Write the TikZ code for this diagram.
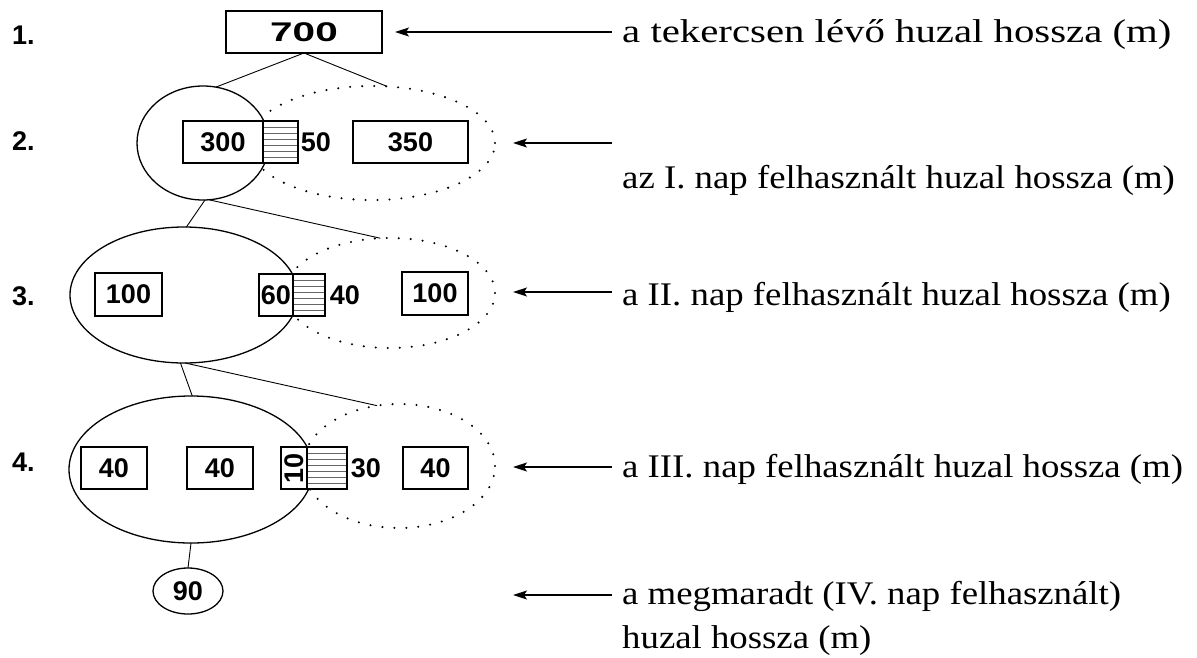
\documentclass[tikz,border=0pt]{standalone}
\usepackage{fontspec}
\setmainfont[FakeStretch=1.115]{Liberation Serif}
\newfontfamily\widenotefont[FakeStretch=1.236]{Liberation Serif}
\newfontfamily\digitfont{Liberation Sans}
\newfontfamily\widedigitfont[FakeStretch=1.5]{Liberation Sans}
\usetikzlibrary{shapes.geometric,arrows.meta,calc}

\begin{document}
\begin{tikzpicture}[x=1pt,y=-1pt,
  digits/.style={font=\digitfont\bfseries\fontsize{27}{28}\selectfont},
  numbox/.style={draw, line width=1.5pt, fill=white, inner sep=0pt, outer sep=0pt,
    minimum height=42pt, digits},
  hatchbox/.style={draw, line width=1.5pt, fill=white, inner sep=0pt, outer sep=0pt,
    minimum height=42pt,
    path picture={\foreach \k in {1,...,6}
      \draw[gray!80!black, line width=0.8pt]
        ($(path picture bounding box.north west)!\k/7!(path picture bounding box.south west)$) --
        ($(path picture bounding box.north east)!\k/7!(path picture bounding box.south east)$);}},
  loose/.style={inner sep=0pt, digits},
  solidell/.style={ellipse, draw, line width=1.3pt, fill=white, inner sep=0pt, outer sep=0pt},
  dotell/.style={ellipse, draw, line width=2.3pt, line cap=round, dash pattern=on 0pt off 12pt,
    inner sep=0pt, outer sep=0pt},
  link/.style={line width=0.9pt},
  pointer/.style={line width=1.3pt, -{Stealth[length=14pt,width=9pt,inset=3pt]}},
  note/.style={anchor=base west, inner sep=0pt, font=\fontsize{33}{44}\selectfont, align=left},
  rowlabel/.style={anchor=west, inner sep=0pt, digits}]
\useasboundingbox (0,0) rectangle (1197,657);

% level numbers
\node[rowlabel] (l1) at (12,35) {1.};
\node[rowlabel] (l2) at (12,141) {2.};
\node[rowlabel] (l3) at (12,296) {3.};
\node[rowlabel] (l4) at (12,462) {4.};

% level 1: the whole coil
\node[numbox, minimum width=156pt, font=\widedigitfont\bfseries\fontsize{27}{28}\selectfont]
  (t700) at (304,32) {700};

% level 2
\node[dotell, minimum width=246pt, minimum height=114pt] (d2) at (372,143) {};
\node[solidell, minimum width=132pt, minimum height=114pt] (s2) at (203,143) {};
\node[numbox, minimum width=80pt] (b300) at (223,142) {300};
\node[hatchbox, minimum width=35pt] (h50) at (280.5,142) {};
\node[loose] (n50) at (316,142) {50};
\node[numbox, minimum width=115pt] (b350) at (410.5,142) {350};

% level 3
\node[dotell, minimum width=210pt, minimum height=110pt] (d3) at (390,293) {};
\node[solidell, minimum width=228pt, minimum height=136pt] (s3) at (184,295) {};
\node[numbox, minimum width=67pt, minimum height=43pt] (b100a) at (128.5,294.5) {100};
\node[numbox, minimum width=34pt, minimum height=42pt] (b60) at (276,295) {60};
\node[hatchbox, minimum width=32pt] (h40) at (309,295) {};
\node[loose] (n40) at (345,295) {40};
\node[numbox, minimum width=66pt, minimum height=43pt] (b100b) at (435,293.5) {100};

% level 4
\node[dotell, minimum width=192pt, minimum height=124pt] (d4) at (399,466) {};
\node[solidell, minimum width=244pt, minimum height=147pt] (s4) at (191,469.5) {};
\node[numbox, minimum width=66pt] (b40a) at (114,468) {40};
\node[numbox, minimum width=66pt] (b40b) at (220,468) {40};
\node[numbox, minimum width=26pt] (b10) at (294,468) {\rotatebox{90}{10}};
\node[hatchbox, minimum width=40pt] (h30) at (327,468) {};
\node[loose] (n30) at (366,468) {30};
\node[numbox, minimum width=65pt] (b40d) at (435.5,468) {40};

% remainder
\node[solidell, minimum width=70pt, minimum height=46pt, digits] (e90) at (188,591) {90};

% tree links
\draw[link] (t700.south) -- (s2.77);
\draw[link] (t700.south) -- (d2.75);
\draw[link] (s2.-88) -- (s3.88);
\draw[link] (s2.-84) -- (d3.100);
\draw[link] (s3.-93) -- (s4.89);
\draw[link] (s3.-89) -- (d4.110);
\draw[link] (s4.-90) -- (e90.north);

% explanations
\node[note, font=\widenotefont\fontsize{33}{44}\selectfont] (t1) at (622,42)
  {a tekercsen lévő huzal hossza (m)};
\node[note] (t2) at (622,188) {az I. nap felhasznált huzal hossza (m)};
\node[note] (t3) at (622,305) {a II. nap felhasznált huzal hossza (m)};
\node[note] (t4) at (622,477) {a III. nap felhasznált huzal hossza (m)};
\node[note] (t5) at (622,648) {a megmaradt (IV. nap felhasznált)\\huzal hossza (m)};

\coordinate (p1) at (612,32);  \coordinate (q1) at (395,32);
\coordinate (p2) at (612,143); \coordinate (q2) at (513,143);
\coordinate (p3) at (612,292); \coordinate (q3) at (513,292);
\coordinate (p4) at (612,467); \coordinate (q4) at (513,467);
\coordinate (p5) at (612,595); \coordinate (q5) at (513,595);
\foreach \i in {1,...,5} \draw[pointer] (p\i) -- (q\i);
\end{tikzpicture}
\end{document}
